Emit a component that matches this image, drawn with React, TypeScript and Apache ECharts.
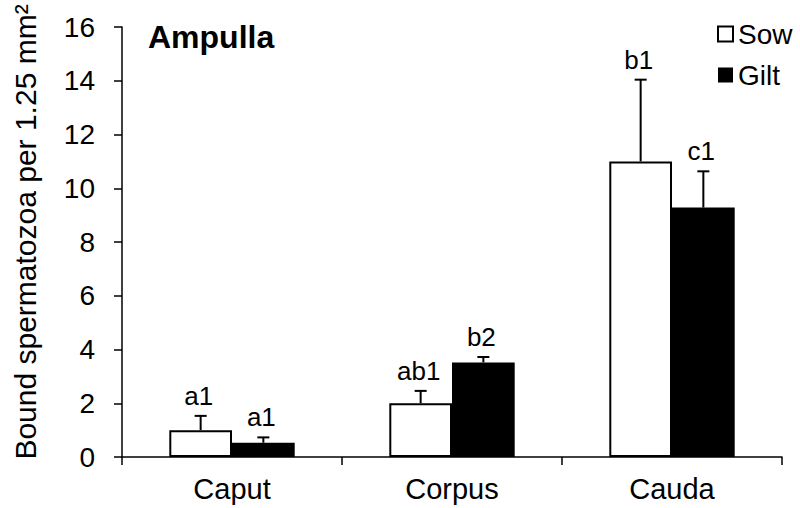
import React, { useEffect, useRef } from "react";
import * as echarts from "echarts";

// Epididymal regions along the x axis
const categories = ["Caput", "Corpus", "Cauda"];

// Mean bound spermatozoa per 1.25 mm² and their error bars
const sowMeans = [1.0, 2.0, 11.0];
const sowErrors = [0.53, 0.46, 3.04];
const giltMeans = [0.53, 3.52, 9.28];
const giltErrors = [0.2, 0.2, 1.35];

// Significance letters above each bar
const sowLabels = ["a1", "ab1", "b1"];
const giltLabels = ["a1", "b2", "c1"];

const yTicks = { min: 0, max: 16, interval: 2 };
const yAxisTitle = "Bound spermatozoa per 1.25 mm²";

const FONT = "'Liberation Sans', Arial, Helvetica, sans-serif";
const BAR_CATEGORY_GAP = 0.43;

function errorBarSeries(
  name: string,
  means: number[],
  errors: number[],
  labels: string[],
  side: number
) {
  return {
    name: name + " error",
    type: "custom",
    z: 5,
    silent: true,
    data: means.map((m, i) => [i, m, errors[i]]),
    encode: { x: 0, y: 1 },
    renderItem: (params: any, api: any) => {
      const i = api.value(0);
      const mean = api.value(1);
      const err = api.value(2);
      const base = api.coord([i, mean]);
      const top = api.coord([i, mean + err]);
      const band = api.size([1, 0])[0];
      const barW = (band * (1 - BAR_CATEGORY_GAP)) / 2;
      const x = base[0] + (side * barW) / 2;
      const stroke = { stroke: "#000", lineWidth: 2 };
      return {
        type: "group",
        children: [
          {
            type: "line",
            shape: { x1: x, y1: base[1], x2: x, y2: top[1] },
            style: stroke,
          },
          {
            type: "line",
            shape: { x1: x - 6, y1: top[1], x2: x + 6, y2: top[1] },
            style: stroke,
          },
          {
            type: "text",
            x: x - 2,
            y: top[1] - 7,
            style: {
              text: labels[params.dataIndex],
              fontSize: 26,
              fontFamily: FONT,
              fill: "#000",
              align: "center",
              verticalAlign: "bottom",
            },
          },
        ],
      };
    },
  };
}

export default function App() {
  const ref = useRef<HTMLDivElement>(null);

  useEffect(() => {
    if (!ref.current) return;
    const chart = echarts.init(ref.current, undefined, { renderer: "svg" });

    chart.setOption({
      animation: false,
      backgroundColor: "#fff",
      textStyle: { fontFamily: FONT },
      title: {
        text: "Ampulla",
        left: 148,
        top: 21,
        padding: 0,
        textStyle: { fontSize: 32, fontWeight: "bold", fontFamily: FONT, color: "#000" },
      },
      legend: {
        orient: "vertical",
        left: 717,
        top: 20,
        padding: 0,
        itemWidth: 15,
        itemHeight: 15,
        itemGap: 13,
        itemTextGap: 6,
        icon: "rect",
        textStyle: { fontSize: 28, fontFamily: FONT, color: "#000" },
        data: [
          { name: "Sow", itemStyle: { color: "#fff", borderColor: "#000", borderWidth: 2 } },
          { name: "Gilt", itemStyle: { color: "#000", borderColor: "#000", borderWidth: 0 } },
        ],
      },
      graphic: [
        {
          type: "text",
          x: 25,
          y: 232,
          rotation: Math.PI / 2,
          style: {
            text: yAxisTitle,
            fontSize: 30,
            fontFamily: FONT,
            fill: "#000",
            align: "center",
            verticalAlign: "middle",
          },
        },
      ],
      grid: { left: 122, right: 18, top: 27, bottom: 51, containLabel: false },
      xAxis: {
        type: "category",
        data: categories,
        axisLine: { lineStyle: { color: "#000", width: 1.5 } },
        axisTick: { show: true, length: 8, lineStyle: { color: "#000", width: 1.5 } },
        axisLabel: { fontSize: 29, fontFamily: FONT, color: "#000", margin: 17 },
        splitLine: { show: false },
      },
      yAxis: {
        type: "value",
        min: yTicks.min,
        max: yTicks.max,
        interval: yTicks.interval,
        axisLine: { show: true, lineStyle: { color: "#000", width: 1.5 } },
        axisTick: { show: true, length: 8, lineStyle: { color: "#000", width: 1.5 } },
        axisLabel: { fontSize: 28, fontFamily: FONT, color: "#000", margin: 27 },
        splitLine: { show: false },
      },
      series: [
        {
          name: "Sow",
          type: "bar",
          data: sowMeans,
          barGap: "0%",
          barCategoryGap: BAR_CATEGORY_GAP * 100 + "%",
          itemStyle: { color: "#fff", borderColor: "#000", borderWidth: 2 },
        },
        {
          name: "Gilt",
          type: "bar",
          data: giltMeans,
          barGap: "0%",
          barCategoryGap: BAR_CATEGORY_GAP * 100 + "%",
          itemStyle: { color: "#000", borderColor: "#000", borderWidth: 0 },
        },
        errorBarSeries("Sow", sowMeans, sowErrors, sowLabels, -1),
        errorBarSeries("Gilt", giltMeans, giltErrors, giltLabels, 1),
      ],
    });

    return () => chart.dispose();
  }, []);

  return (
    <div
      ref={ref}
      style={{ position: "fixed", left: 0, top: 0, width: 800, height: 508 }}
    />
  );
}
